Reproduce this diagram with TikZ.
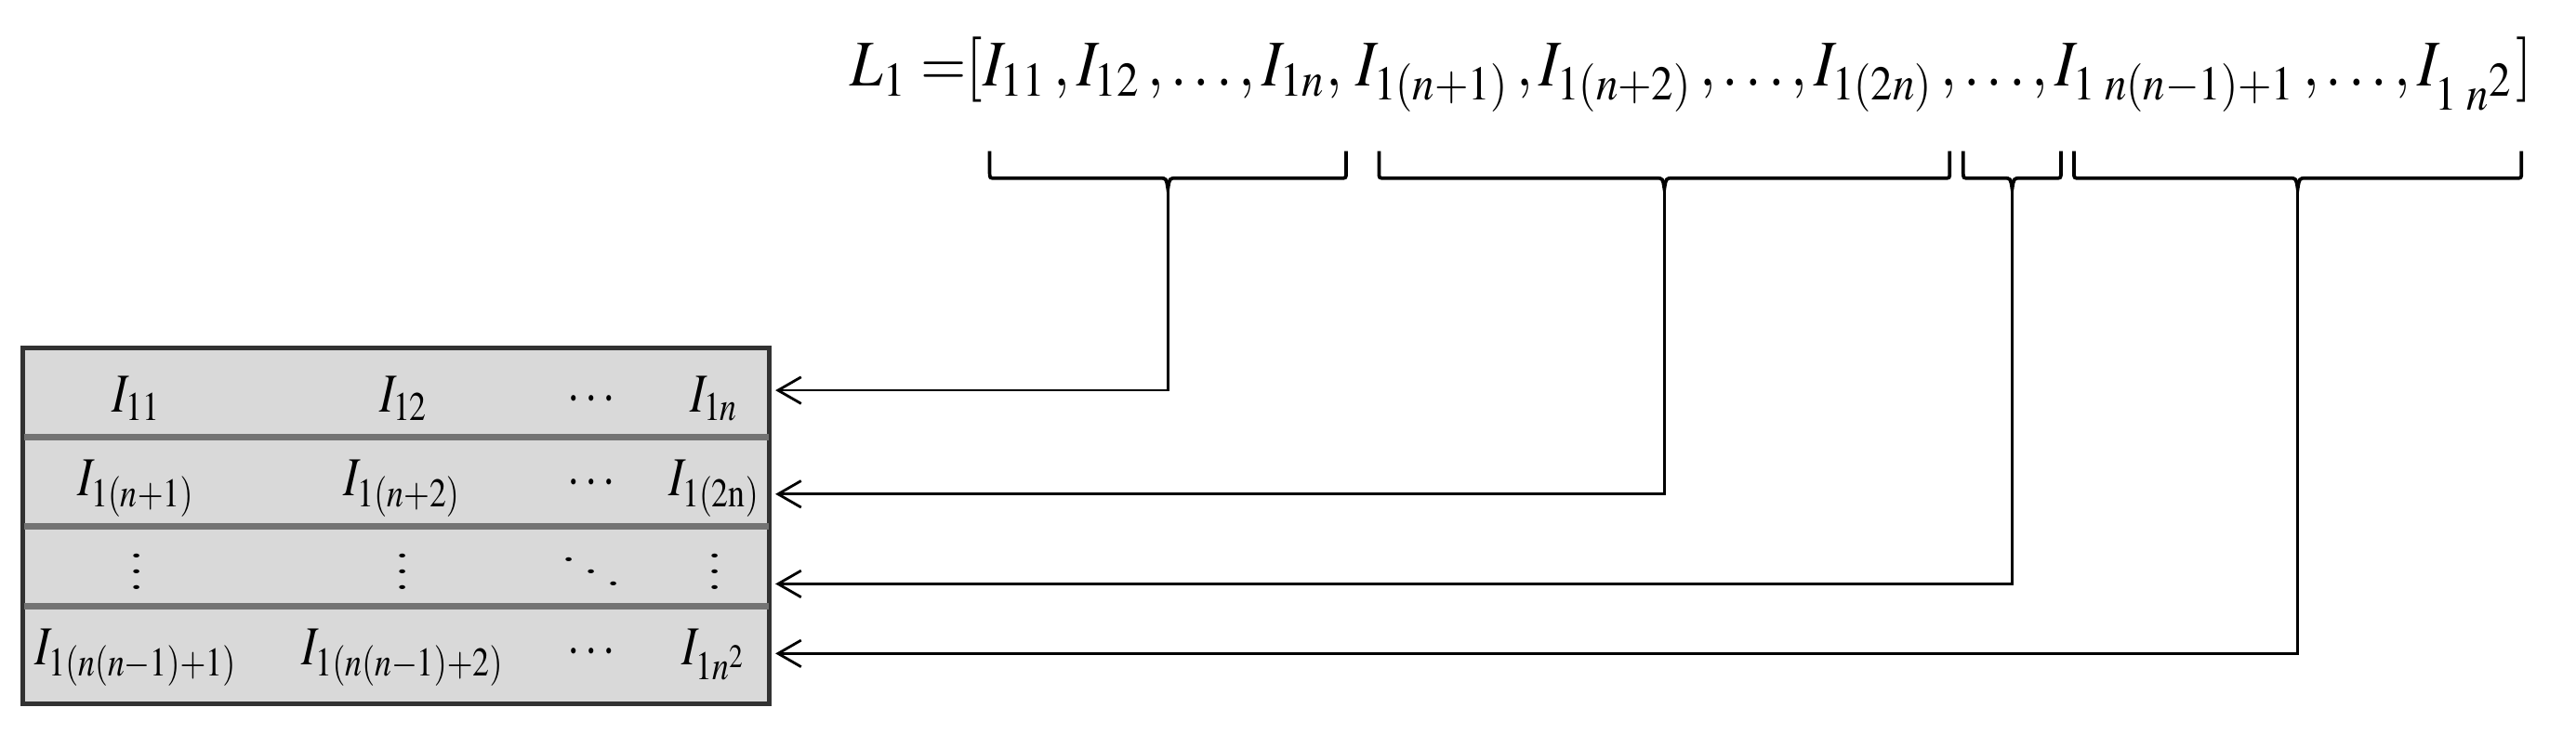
\documentclass[tikz,border=0pt]{standalone}
\usepackage{mathptmx}
\usepackage{graphicx}
\usetikzlibrary{arrows.meta, positioning}
\usepackage{xcolor}
\definecolor{tableFill}{RGB}{217, 217, 217}
\definecolor{tableEdge}{RGB}{50, 50, 50}
\colorlet{rowEdge}{black!55}
\newcommand{\cellm}[1]{\scalebox{0.82}[1]{$#1$}}
\newcommand{\dotsm}[1]{\scalebox{1.05}[0.68]{$#1$}}
\tikzset{
    frame/.style={fill=tableFill, draw=tableEdge, line width=0.8pt},
    rowline/.style={draw=rowEdge, line width=1.1pt},
    entry/.style={anchor=base, inner sep=0pt, font=\fontsize{9.5}{11}\selectfont},
    brace/.style={draw=black, line width=0.6pt},
    link/.style={draw=black, line width=0.45pt, {Straight Barb[length=4pt,width=4.6pt]}-}
}

\begin{document}
\begin{tikzpicture}[x=0.01cm, y=-0.01cm]
                    \useasboundingbox (0,0) rectangle (1568,447);

                    % Draw the list L1 on top
                    \node[anchor=base west, inner sep=0pt, font=\fontsize{11.3}{13}\selectfont] (list) at (517,52.4)
                        {\scalebox{0.903}[1]{$L_1\;{=}[I_{11}\,, I_{12}\,,\ldots, I_{1n},\, I_{1(n+1)}\,, I_{1(n+2)}\,,\ldots, I_{1(2n)}\,,\ldots, I_{1\;n(n-1)+1}\,,\ldots, I_{1\;n^{\scriptstyle 2}}]$}};

                    % Draw the braces under the groups of the list
                    \draw[brace] (602.4,92) -- (602.4,105) .. controls (602.4,108.5) .. (606,108.5) -- (705.9,108.5)
                        .. controls (709.9,108.5) .. (710.9,115) coordinate (t1) .. controls (711.9,108.5) .. (715.9,108.5)
                        -- (815.8,108.5) .. controls (819.4,108.5) .. (819.4,105) -- (819.4,92);
                    \draw[brace] (839.4,92) -- (839.4,105) .. controls (839.4,108.5) .. (843,108.5) -- (1008.1,108.5)
                        .. controls (1012.1,108.5) .. (1013.1,115) coordinate (t2) .. controls (1014.1,108.5) .. (1018.1,108.5)
                        -- (1183.2,108.5) .. controls (1186.8,108.5) .. (1186.8,105) -- (1186.8,92);
                    \draw[brace] (1195,92) -- (1195,105) .. controls (1195,108.5) .. (1198.6,108.5) -- (1219.8,108.5)
                        .. controls (1223.8,108.5) .. (1224.8,115) coordinate (t3) .. controls (1225.8,108.5) .. (1229.8,108.5)
                        -- (1250.9,108.5) .. controls (1254.5,108.5) .. (1254.5,105) -- (1254.5,92);
                    \draw[brace] (1262.4,92) -- (1262.4,105) .. controls (1262.4,108.5) .. (1266,108.5) -- (1393.6,108.5)
                        .. controls (1397.6,108.5) .. (1398.6,115) coordinate (t4) .. controls (1399.6,108.5) .. (1403.6,108.5)
                        -- (1531.2,108.5) .. controls (1534.8,108.5) .. (1534.8,105) -- (1534.8,92);

                    % Draw the table of rows
                    \draw[frame] (13.7,211.7) rectangle (468.5,428.5);
                    \draw[rowline] (14.5,266) -- (467.7,266);
                    \draw[rowline] (14.5,320.7) -- (467.7,320.7);
                    \draw[rowline] (14.5,369.3) -- (467.7,369.3);

                    % Entries of the rows
                    \node[entry] (a11) at (83.5,250.9) {\cellm{I_{11}}};
                    \node[entry] (a12) at (246,250.9) {\cellm{I_{12}}};
                    \node[entry] (a13) at (360,250.9) {\cellm{\cdots}};
                    \node[entry] (a14) at (435,250.9) {\cellm{I_{1n}}};
                    \node[entry] (a21) at (83,301.8) {\cellm{I_{1(n+1)}}};
                    \node[entry] (a22) at (245,301.8) {\cellm{I_{1(n+2)}}};
                    \node[entry] (a23) at (360,301.8) {\cellm{\cdots}};
                    \node[entry] (a24) at (435,301.8) {\cellm{I_{1(2\mathrm{n})}}};
                    \node[entry, anchor=center] (a31) at (83,341) {\dotsm{\vdots}};
                    \node[entry, anchor=center] (a32) at (245,341) {\dotsm{\vdots}};
                    \node[entry, anchor=center] (a33) at (360,341) {\dotsm{\ddots}};
                    \node[entry, anchor=center] (a34) at (435,341) {\dotsm{\vdots}};
                    \node[entry] (a41) at (83,404.6) {\cellm{I_{1(n(n-1)+1)}}};
                    \node[entry] (a42) at (245.5,404.6) {\cellm{I_{1(n(n-1)+2)}}};
                    \node[entry] (a43) at (360,404.6) {\cellm{\cdots}};
                    \node[entry] (a44) at (435,404.6) {\cellm{I_{1n^2}}};

                    % Arrows from the braces to the rows
                    \coordinate (e1) at (472,237.7);
                    \coordinate (e2) at (472,300.9);
                    \coordinate (e3) at (472,355.6);
                    \coordinate (e4) at (472,398);
                    \draw[link] (e1) -| (t1);
                    \draw[link] (e2) -| (t2);
                    \draw[link] (e3) -| (t3);
                    \draw[link] (e4) -| (t4);
                \end{tikzpicture}
\end{document}
